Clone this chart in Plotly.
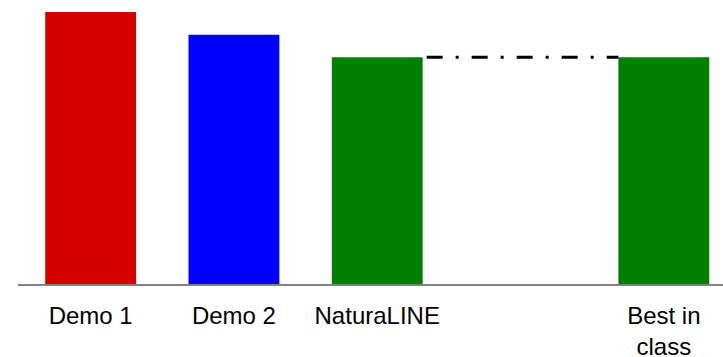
import plotly.graph_objects as go

categories = ["Demo 1", "Demo 2", "NaturaLINE", "", "Best in<br>class"]
values = [120, 110, 100, None, 100]
colors = ["#d40000", "#0000ff", "#007f00", "#ffffff", "#007f00"]

x_idx = list(range(len(categories)))
bar_w = 0.634

fig = go.Figure()
fig.add_trace(go.Bar(
    x=x_idx, y=values, width=bar_w,
    marker=dict(color=colors, line=dict(width=0)),
    hoverinfo="skip",
))

# dash-dot reference line from NaturaLINE to Best in class
gap = 4 / 143.3
fig.add_shape(
    type="line", xref="x", yref="y",
    x0=2 + bar_w / 2 + gap, x1=4 - bar_w / 2,
    y0=values[2], y1=values[4],
    line=dict(color="black", width=3, dash="16px,13px,3px,13px"),
)

fig.update_layout(
    width=723, height=357,
    margin=dict(l=18, r=0, t=0, b=73, autoexpand=False),
    paper_bgcolor="white", plot_bgcolor="white",
    showlegend=False,
    font=dict(family="Liberation Sans, Arial, sans-serif", size=24, color="black"),
)
fig.update_xaxes(
    range=[-0.507, 4.413], automargin=False,
    tickmode="array", tickvals=x_idx, ticktext=categories,
    showgrid=False, zeroline=False,
    showline=True, linecolor="#808080", linewidth=2,
    ticks="", ticklabelstandoff=9,
    tickfont=dict(size=24),
)
fig.update_yaxes(
    range=[0, 125.3], visible=False, showgrid=False, zeroline=False,
    automargin=False,
)

fig.write_html(
    "out.html",
    config={"displayModeBar": False, "staticPlot": True},
    post_script="document.body.style.margin='0';document.body.style.padding='0';",
)
